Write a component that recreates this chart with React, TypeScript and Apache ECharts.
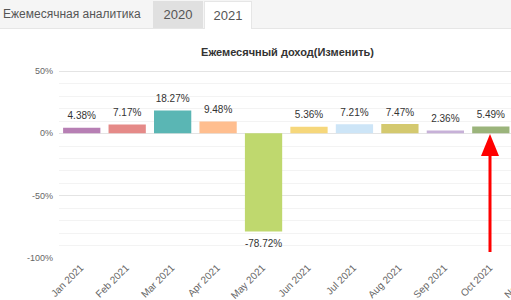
import React, { useEffect, useRef } from "react";
import * as echarts from "echarts";

const months = ["Jan 2021", "Feb 2021", "Mar 2021", "Apr 2021", "May 2021", "Jun 2021", "Jul 2021", "Aug 2021", "Sep 2021", "Oct 2021", "Nov 2021"];
const values: (number | null)[] = [4.38, 7.17, 18.27, 9.48, -78.72, 5.36, 7.21, 7.47, 2.36, 5.49, null];
const colors = ["#b77fb4", "#e58a88", "#5ab6b4", "#ffbe8f", "#bfd86e", "#f6d77b", "#cde5f7", "#d4c96f", "#c7b1d8", "#9bb47b", "#cccccc"];
const tabLabel = "Ежемесячная аналитика";
const years = ["2020", "2021"];
const chartTitle = "Ежемесячный доход(Изменить)";

export default function App() {
  const ref = useRef<HTMLDivElement>(null);
  useEffect(() => {
    document.body.style.margin = "0";
    const chart = echarts.init(ref.current!, null, { renderer: "svg" });
    chart.setOption({
      animation: false,
      title: {
        text: chartTitle,
        left: "center",
        top: 41,
        textStyle: { fontSize: 11, fontWeight: "bold", color: "#333", fontFamily: "Arial, Liberation Sans, sans-serif" },
      },
      grid: { left: 59, right: 16, top: 71, bottom: 42, containLabel: false, outerBoundsMode: "none" },
      xAxis: {
        type: "category",
        data: months,
        axisLine: { show: false, onZero: false },
        axisTick: { show: false },
        axisLabel: { rotate: 45, margin: 8, fontSize: 10, color: "#666", fontFamily: "Arial, Liberation Sans, sans-serif", interval: 0 },
      },
      yAxis: {
        type: "value",
        min: -100,
        max: 50,
        interval: 50,
        axisLine: { show: false },
        axisTick: { show: false },
        axisLabel: { formatter: "{value}%", fontSize: 9, color: "#666", margin: 6, fontFamily: "Arial, Liberation Sans, sans-serif" },
        splitLine: { show: true, showMinLine: false, lineStyle: { color: "#e4e4e4", width: 1 } },
        minorTick: { show: false, splitNumber: 5 },
        minorSplitLine: { show: true, lineStyle: { color: "#f3f3f3", width: 1 } },
      },
      series: [
        {
          type: "bar",
          data: values.map((v, i) => ({ value: v, itemStyle: { color: colors[i] } })),
          barCategoryGap: "18%",
          label: {
            show: true,
            position: "outside",
            distance: 7,
            fontSize: 10,
            color: "#333",
            fontFamily: "Arial, Liberation Sans, sans-serif",
            formatter: (p: any) => (p.value == null ? "" : p.value.toFixed(2) + "%"),
          },
        },
      ],
      graphic: [
        { type: "polygon", shape: { points: [[490, 134], [481, 156], [499, 156]] }, style: { fill: "#ff0000" }, z: 100 },
        { type: "rect", shape: { x: 488.5, y: 154, width: 3, height: 98 }, style: { fill: "#ff0000" }, z: 100 },
      ],
    });
    return () => chart.dispose();
  }, []);

  const font = "Arial, 'Liberation Sans', sans-serif";
  return (
    <div style={{ position: "absolute", left: 0, top: 0, width: 511, height: 300, overflow: "hidden", background: "#fff" }}>
      <div ref={ref} style={{ position: "absolute", left: 0, top: 0, width: 575, height: 300 }} />
      <div style={{ position: "absolute", left: 0, top: 0, width: 511, height: 28, background: "#f5f5f5", borderBottom: "1px solid #e6e6e6", fontFamily: font, fontSize: 13, color: "#555" }}>
        <div style={{ position: "absolute", left: 3, top: 0, height: 28, lineHeight: "28px", fontSize: 12 }}>{tabLabel}</div>
        <div style={{ position: "absolute", left: 153, top: 1, width: 50, height: 27, lineHeight: "27px", textAlign: "center", background: "#e0e0e0" }}>{years[0]}</div>
        <div style={{ position: "absolute", left: 204, top: 1, width: 48, height: 28, lineHeight: "27px", textAlign: "center", background: "#fff", borderLeft: "1px solid #e6e6e6", borderRight: "1px solid #e6e6e6", borderTop: "1px solid #e6e6e6", boxSizing: "border-box" }}>{years[1]}</div>
      </div>
    </div>
  );
}
